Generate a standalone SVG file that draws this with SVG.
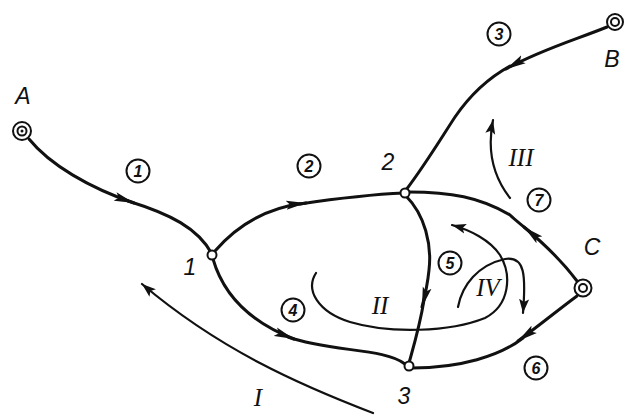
<svg xmlns="http://www.w3.org/2000/svg" width="627" height="419" viewBox="0 0 627 419">
<defs>
<style>
.e{fill:none;stroke:#111;stroke-width:3;stroke-linecap:round}
.d{fill:none;stroke:#111;stroke-width:2.2;stroke-linecap:round}
.n{fill:#fff;stroke:#111;stroke-width:2}
.c{fill:#fff;stroke:#111;stroke-width:2}
.lb{font-family:"Liberation Sans",Arial,sans-serif;font-style:italic;font-size:23px;fill:#111;text-anchor:middle}
.num{font-family:"Liberation Sans",Arial,sans-serif;font-style:italic;font-weight:bold;font-size:16px;fill:#111;text-anchor:middle}
.rm{font-family:"Liberation Serif","Times New Roman",serif;font-style:italic;font-size:25px;fill:#111;text-anchor:middle}
</style>
<marker id="ah" markerWidth="22" markerHeight="10" refX="20" refY="5" orient="auto" markerUnits="userSpaceOnUse">
<path d="M0,0.5 L20,5 L0,9.5 L4,5 Z" fill="#111"/>
</marker>
<marker id="ad" markerWidth="16" markerHeight="12" refX="14" refY="6" orient="auto" markerUnits="userSpaceOnUse">
<path d="M0,1 L14,6 L0,11 L3,6 Z" fill="#111"/>
</marker>
</defs>
<g id="connectors">
<path class="e" d="M29,139 C50,165 90,188 134,203" marker-end="url(#ah)"/>
<path class="e" d="M128,201 C170,214 198,228 212,254"/>
<path class="e" d="M215,251 C240,222 270,207 306,203" marker-end="url(#ah)"/>
<path class="e" d="M300,204 C340,198 380,194 404,193"/>
<path class="e" d="M607,27 C575,40 540,50 506,69" marker-end="url(#ah)"/>
<path class="e" d="M510,66 C490,77 470,95 455,117 C440,140 425,165 406,190"/>
<path class="e" d="M577,281 C565,265 548,247 524,227" marker-end="url(#ah)"/>
<path class="e" d="M530,232 C522,225 515,220 510,215 C480,197 450,192 409,192"/>
<path class="e" d="M577,296 C558,310 540,325 518,341" marker-end="url(#ah)"/>
<path class="e" d="M523,338 C500,356 460,368 412,368"/>
<path class="e" d="M406,196 C425,215 432,245 429,270 C428,280 426,292 422,307" marker-end="url(#ah)"/>
<path class="e" d="M424,300 C420,325 414,345 409,363"/>
<path class="e" d="M213,259 C222,290 245,320 294,339" marker-end="url(#ah)"/>
<path class="e" d="M288,337 C330,352 385,348 405,364"/>
<path class="d" d="M373,413 C300,385 220,350 142,284" marker-end="url(#ad)"/>
<path class="d" d="M316,273 C305,290 318,312 350,322 C390,334 450,332 485,318 C510,305 512,275 500,255 C490,240 470,230 452,225" marker-end="url(#ad)"/>
<path class="d" d="M458,307 C462,285 478,265 505,259 C525,256 526,275 523,313" marker-end="url(#ad)"/>
<path class="d" d="M510,198 C492,175 487,150 493,120" marker-end="url(#ad)"/>
</g>
<g id="A"><circle class="n" cx="22" cy="131" r="9"/><circle class="n" cx="22" cy="131" r="4.5" stroke-width="1.5"/><circle cx="22" cy="131" r="1.5" fill="#111"/><text class="lb" x="23" y="104">A</text></g>
<g id="B"><circle class="n" cx="615" cy="22" r="8"/><circle class="n" cx="615" cy="22" r="4" stroke-width="1.5"/><text class="lb" x="612" y="67">B</text></g>
<g id="C"><circle class="n" cx="583" cy="288" r="8.5"/><circle class="n" cx="583" cy="288" r="4" stroke-width="1.5"/><text class="lb" x="592" y="255">C</text></g>
<g id="n1"><circle class="n" cx="212" cy="255" r="4.5"/><text class="lb" x="190" y="275">1</text></g>
<g id="n2"><circle class="n" cx="405" cy="193" r="4.5"/><text class="lb" x="388" y="170">2</text></g>
<g id="n3"><circle class="n" cx="409" cy="366" r="4.5"/><text class="lb" x="404" y="404">3</text></g>
<g id="l1"><circle class="c" cx="138" cy="171" r="11.5"/><text class="num" x="138" y="177">1</text></g>
<g id="l2"><circle class="c" cx="309" cy="166" r="11.5"/><text class="num" x="309" y="172">2</text></g>
<g id="l3"><circle class="c" cx="499" cy="34" r="11.5"/><text class="num" x="499" y="40">3</text></g>
<g id="l4"><circle class="c" cx="293" cy="310" r="11.5"/><text class="num" x="293" y="316">4</text></g>
<g id="l5"><circle class="c" cx="450" cy="263" r="11.5"/><text class="num" x="450" y="269">5</text></g>
<g id="l6"><circle class="c" cx="536" cy="368" r="11.5"/><text class="num" x="536" y="374">6</text></g>
<g id="l7"><circle class="c" cx="539" cy="200" r="11.5"/><text class="num" x="539" y="206">7</text></g>
<g id="r1"><text class="rm" x="258" y="406">I</text></g>
<g id="r2"><text class="rm" x="380" y="314">II</text></g>
<g id="r3"><text class="rm" x="521" y="166">III</text></g>
<g id="r4"><text class="rm" x="488" y="296">IV</text></g>
</svg>
